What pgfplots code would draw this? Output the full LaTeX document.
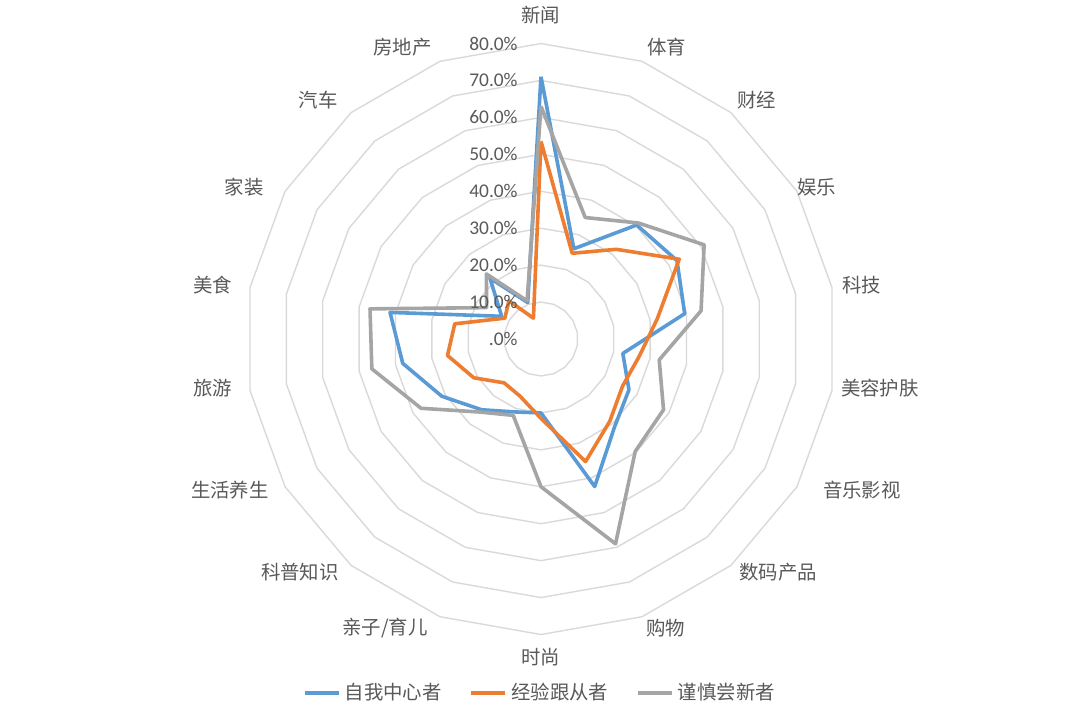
\documentclass[border=0pt]{standalone}
\usepackage{pgfplots}
\pgfplotsset{compat=1.18}
\usepgfplotslibrary{polar}
\usepackage{fontspec}
\setmainfont{Carlito}
\newfontfamily\cjk{Noto Sans CJK SC}
\definecolor{sblue}{HTML}{5B9BD5}
\definecolor{sorange}{HTML}{ED7D31}
\definecolor{sgray}{HTML}{A5A5A5}
\definecolor{txt}{HTML}{595959}
\definecolor{ringc}{HTML}{D9D9D9}
\begin{document}
\begin{tikzpicture}
\path[use as bounding box] (-270.5pt,-190.5pt) rectangle (269.5pt,169.5pt);
\begin{polaraxis}[
  at={(0pt,0pt)}, anchor=center,
  scale only axis, width=295.5pt, height=295.5pt,
  ymin=0, ymax=80, xmin=0, xmax=360,
  hide axis, clip=false,
  legend columns=3,
  legend style={at={(0.5,-0.0986)}, anchor=center, draw=none, fill=none,
    font=\cjk\fontsize{9.7}{11}\selectfont, text=txt,
    /tikz/every even column/.append style={column sep=12pt}},
  legend cell align=left,
  legend image code/.code={\draw[#1] (0pt,0pt) -- (17pt,0pt);},
  every axis plot/.append style={line join=round},
]
% polygon grid rings
\addplot[ringc, line width=0.7pt, forget plot] coordinates {(90,10) (70,10) (50,10) (30,10) (10,10) (350,10) (330,10) (310,10) (290,10) (270,10) (250,10) (230,10) (210,10) (190,10) (170,10) (150,10) (130,10) (110,10) (90,10)};
\addplot[ringc, line width=0.7pt, forget plot] coordinates {(90,20) (70,20) (50,20) (30,20) (10,20) (350,20) (330,20) (310,20) (290,20) (270,20) (250,20) (230,20) (210,20) (190,20) (170,20) (150,20) (130,20) (110,20) (90,20)};
\addplot[ringc, line width=0.7pt, forget plot] coordinates {(90,30) (70,30) (50,30) (30,30) (10,30) (350,30) (330,30) (310,30) (290,30) (270,30) (250,30) (230,30) (210,30) (190,30) (170,30) (150,30) (130,30) (110,30) (90,30)};
\addplot[ringc, line width=0.7pt, forget plot] coordinates {(90,40) (70,40) (50,40) (30,40) (10,40) (350,40) (330,40) (310,40) (290,40) (270,40) (250,40) (230,40) (210,40) (190,40) (170,40) (150,40) (130,40) (110,40) (90,40)};
\addplot[ringc, line width=0.7pt, forget plot] coordinates {(90,50) (70,50) (50,50) (30,50) (10,50) (350,50) (330,50) (310,50) (290,50) (270,50) (250,50) (230,50) (210,50) (190,50) (170,50) (150,50) (130,50) (110,50) (90,50)};
\addplot[ringc, line width=0.7pt, forget plot] coordinates {(90,60) (70,60) (50,60) (30,60) (10,60) (350,60) (330,60) (310,60) (290,60) (270,60) (250,60) (230,60) (210,60) (190,60) (170,60) (150,60) (130,60) (110,60) (90,60)};
\addplot[ringc, line width=0.7pt, forget plot] coordinates {(90,70) (70,70) (50,70) (30,70) (10,70) (350,70) (330,70) (310,70) (290,70) (270,70) (250,70) (230,70) (210,70) (190,70) (170,70) (150,70) (130,70) (110,70) (90,70)};
\addplot[ringc, line width=0.7pt, forget plot] coordinates {(90,80) (70,80) (50,80) (30,80) (10,80) (350,80) (330,80) (310,80) (290,80) (270,80) (250,80) (230,80) (210,80) (190,80) (170,80) (150,80) (130,80) (110,80) (90,80)};
% series
\addplot[sblue, line width=1.8pt, no markers] coordinates {(90,71) (70,26) (50,40.3) (30,42.5) (10,39.5) (350,22.5) (330,27.5) (310,31) (290,42.5) (270,20) (250,21) (230,25) (210,31) (190,38) (170,41.5) (150,12.3) (130,21.5) (110,10.5) (90,71)};
\addlegendentry{自我中心者}
\addplot[sorange, line width=1.8pt, no markers] coordinates {(90,53.5) (70,24.7) (50,31.7) (30,43.2) (10,32) (350,27) (330,25.5) (310,29) (290,35.3) (270,21.5) (250,16.5) (230,15.5) (210,21) (190,25.7) (170,23.7) (150,11.3) (130,13.5) (110,6) (90,53.5)};
\addlegendentry{经验跟从者}
\addplot[sgray, line width=1.8pt, no markers] coordinates {(90,63) (70,35) (50,41) (30,51) (10,44) (350,32.5) (330,38.3) (310,39.7) (290,59) (270,40) (250,22) (230,25.8) (210,37.5) (190,46.5) (170,47) (150,17) (130,23) (110,11) (90,63)};
\addlegendentry{谨慎尝新者}
% radial tick labels
\begin{scope}[every node/.style={font=\fontsize{9.7}{11}\selectfont, text=txt, anchor=east, inner sep=0pt, xshift=-11.5pt}]
\node at (axis cs:90,0) {.0\%};
\node at (axis cs:90,10) {10.0\%};
\node at (axis cs:90,20) {20.0\%};
\node at (axis cs:90,30) {30.0\%};
\node at (axis cs:90,40) {40.0\%};
\node at (axis cs:90,50) {50.0\%};
\node at (axis cs:90,60) {60.0\%};
\node at (axis cs:90,70) {70.0\%};
\node at (axis cs:90,80) {80.0\%};
\end{scope}
% category labels
\begin{scope}[every node/.style={font=\cjk\fontsize{9.7}{11}\selectfont, text=txt, anchor=center, inner sep=0pt}]
\node at (axis cs:90,87.7) {新闻};
\node at (axis cs:66.66,86.1) {体育};
\node at (axis cs:47.89,87.2) {财经};
\node at (axis cs:28.84,85.3) {娱乐};
\node at (axis cs:9.55,88.1) {科技};
\node at (axis cs:351.78,92.7) {美容护肤};
\node at (axis cs:334.81,96.0) {音乐影视};
\node at (axis cs:315.5,90.0) {数码产品};
\node at (axis cs:293.4,85.2) {购物};
\node at (axis cs:270,86.1) {时尚};
\node at (axis cs:241.6,88.9) {亲子/育儿};
\node at (axis cs:224.0,90.7) {科普知识};
\node at (axis cs:205.9,93.6) {生活养生};
\node at (axis cs:188.5,89.8) {旅游};
\node at (axis cs:170.65,90.0) {美食};
\node at (axis cs:152.9,90.3) {家装};
\node at (axis cs:133.0,88.5) {汽车};
\node at (axis cs:115.4,87.5) {房地产};
\end{scope}
\end{polaraxis}
\end{tikzpicture}
\end{document}
